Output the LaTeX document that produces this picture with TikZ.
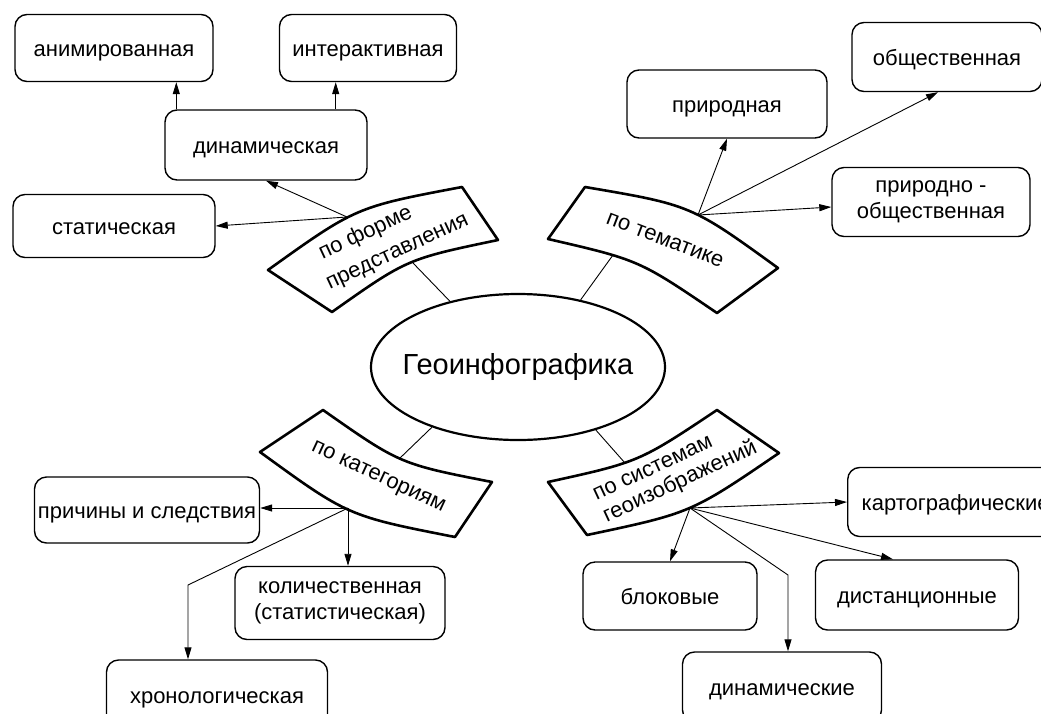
\documentclass[tikz,border=0pt]{standalone}
\usepackage{fontspec}
\setmainfont{Liberation Sans}
\usetikzlibrary{arrows.meta,shapes.geometric,calc}
\begin{document}
\begin{tikzpicture}[x=1pt,y=-1pt,
  box/.style={draw,line width=1.4pt,rounded corners=12pt,font=\fontsize{22}{26}\selectfont,align=center,inner sep=0pt},
  one/.style={text height=17pt,text depth=0pt},
  arr/.style={line width=0.9pt,-{Triangle[length=12pt,width=7pt]}},
  link/.style={line width=0.9pt},
  band/.style={draw,line width=2.6pt,line join=round,fill=white},
  btext/.style={font=\fontsize{22}{24}\selectfont,inner sep=0pt}]
\useasboundingbox (0,0) rectangle (1041,713);
\clip (0,0) rectangle (1041,713);
% centre
\node[draw,ellipse,line width=2.2pt,minimum width=294pt,minimum height=146pt,inner xsep=-45pt,inner ysep=0pt,font=\fontsize{29}{33}\selectfont] (geo) at (518,367) {Геоинфографика};
% boxes
\node[box,one,minimum width=198pt,minimum height=67pt] (anim) at (114,48) {анимированная};
\node[box,one,minimum width=177pt,minimum height=67pt] (inter) at (368,48) {интерактивная};
\node[box,one,minimum width=202pt,minimum height=70pt] (dyn) at (266,145) {динамическая};
\node[box,one,minimum width=202pt,minimum height=63pt] (stat) at (114,226) {статическая};
\node[box,one,minimum width=200pt,minimum height=68pt] (prir) at (727,104) {природная};
\node[box,one,minimum width=190pt,minimum height=69pt] (obsh) at (947,57) {общественная};
\node[box,minimum width=198pt,minimum height=69pt] (prob) at (931,202) {природно -\\общественная};
\node[box,one,minimum width=225pt,minimum height=66pt] (prich) at (147,510) {причины и следствия};
\node[box,minimum width=210pt,minimum height=73pt] (kol) at (340,603) {количественная\\(статистическая)};
\node[box,one,minimum width=221pt,minimum height=70pt] (hron) at (217,695) {хронологическая};
\node[box,one,minimum width=215pt,minimum height=69pt,anchor=west,align=left,text width=200pt,inner xsep=14pt] (kart) at (847,502) {картографические};
\node[box,one,minimum width=174pt,minimum height=68pt] (blok) at (670,596) {блоковые};
\node[box,one,minimum width=203pt,minimum height=70pt] (dist) at (917,595) {дистанционные};
\node[box,one,minimum width=199pt,minimum height=70pt] (dinam) at (782,687) {динамические};
% bands
\draw[band] (268,270) .. controls (356,207) .. (462,187) -- (498,240) .. controls (407,259) .. (332,312) -- cycle;
\draw[band] (585,187) .. controls (691,205) .. (778,268) -- (717,313) .. controls (639,260) .. (548,239) -- cycle;
\draw[band] (323,410) .. controls (400,464) .. (492,482) -- (455,537) .. controls (348,516) .. (260,452) -- cycle;
\draw[band] (548,482) .. controls (639,462) .. (717,410) -- (779,453) .. controls (691,513) .. (587,535) -- cycle;
\node[btext,rotate=25,align=left,font=\fontsize{22}{30}\selectfont] (t1) at (391,238) {\hspace*{6pt}по форме\\представления};
\node[btext,rotate=-21] (t2) at (665,240) {по тематике};
\node[btext,rotate=-25] (t3) at (378,478) {по категориям};
\node[btext,rotate=25,align=left,font=\fontsize{22}{24}\selectfont] (t4) at (676,473) {по системам\\геоизображений};
% band to centre
\coordinate (b1) at (413,263);
\coordinate (b2) at (613,255);
\coordinate (b3) at (400,458);
\coordinate (b4) at (625,463);
\draw[link] (b1) -- (geo.136);
\draw[link] (b2) -- (geo.47);
\draw[link] (b3) -- (geo.215);
\draw[link] (b4) -- (geo.321);
% hubs
\coordinate (h1) at (347,217);
\coordinate (h2) at (698,215);
\coordinate (h3) at (348,508);
\coordinate (h4) at (690,508);
\coordinate (c3) at (188,585);
\coordinate (c4) at (788,575);
\draw[arr] ([xshift=12pt]dyn.north west) -- ([xshift=12pt]dyn.north west |- anim.south);
\draw[arr] ([xshift=-32pt]dyn.north east) -- ([xshift=-32pt]dyn.north east |- inter.south);
\draw[arr] (h1) -- (dyn.south);
\draw[arr] (h1) -- (stat.east);
\draw[arr] (h2) -- (prir.south);
\draw[arr] (h2) -- ([xshift=-9pt]obsh.south);
\draw[arr] (h2) -- ([yshift=-5pt]prob.west);
\draw[arr] (h3) -- (h3 -| prich.east);
\draw[arr] (h3) -- (h3 |- kol.north);
\draw[arr] (h3) -- (c3) -- (c3 |- hron.north);
\draw[arr] (h4) -- (kart.west);
\draw[arr] (h4) -- (blok.north);
\draw[arr] (h4) -- ([xshift=-24pt]dist.north);
\draw[arr] (h4) -- (c4) -- (c4 |- dinam.north);
\end{tikzpicture}
\end{document}
